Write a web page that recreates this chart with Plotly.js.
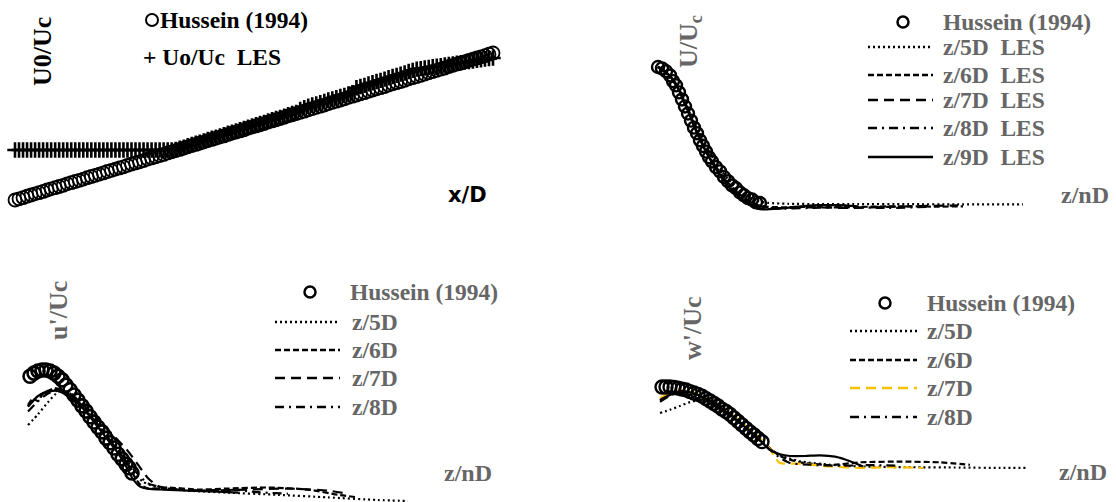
<!DOCTYPE html>
<html><head><meta charset="utf-8">
<script src="https://cdn.plot.ly/plotly-3.0.1.min.js"></script>
<style>html,body{margin:0;padding:0;background:#fff}#chart{width:1116px;height:502px}</style>
</head><body><div id="chart"></div>
<script>
// ---------- Panel 1 : U0/Uc vs x/D (uniform x/D stations, start 0, step 0.25) ----------
const p1Start = 0, p1Step = 0.25;
const p1Hussein = [1.00,1.04,1.08,1.13,1.17,1.21,1.25,1.29,1.34,1.38,
1.42,1.46,1.50,1.55,1.59,1.63,1.67,1.71,1.76,1.80,
1.84,1.88,1.92,1.97,2.01,2.05,2.09,2.13,2.18,2.22,
2.26,2.30,2.34,2.39,2.43,2.47,2.51,2.55,2.60,2.64,
2.68,2.72,2.76,2.81,2.85,2.89,2.93,2.97,3.02,3.06,
3.10,3.14,3.18,3.23,3.27,3.31,3.35,3.39,3.44,3.48,
3.52,3.56,3.60,3.65,3.69,3.73,3.77,3.81,3.86,3.90,
3.94,3.98,4.02,4.07,4.11,4.15,4.19,4.23,4.28,4.32,
4.36,4.40,4.44,4.49,4.53,4.57,4.61,4.65,4.70,4.74,
4.78,4.82,4.86,4.91,4.95,4.99,5.03,5.07,5.12,5.16,
5.20,5.24,5.28,5.33,5.37,5.41,5.45,5.49,5.54,5.58,
5.62,5.66,5.70,5.75,5.79,5.83,5.87,5.91,5.96,6.00];
const p1LES = [2.70,2.70,2.70,2.70,2.70,2.70,2.70,2.70,2.70,2.70,
2.70,2.70,2.70,2.70,2.70,2.70,2.70,2.70,2.70,2.70,
2.70,2.70,2.70,2.70,2.70,2.70,2.70,2.70,2.70,2.70,
2.70,2.70,2.70,2.70,2.70,2.70,2.70,2.70,2.70,2.70,
2.72,2.76,2.80,2.85,2.89,2.93,2.97,3.01,3.06,3.10,
3.14,3.18,3.22,3.27,3.31,3.35,3.39,3.43,3.48,3.52,
3.56,3.60,3.64,3.69,3.73,3.77,3.81,3.85,3.90,3.94,
3.98,4.08,4.14,4.19,4.23,4.27,4.31,4.35,4.40,4.44,
4.48,4.52,4.56,4.61,4.65,4.82,4.86,4.90,4.95,4.99,
5.03,5.07,5.11,5.16,5.20,5.24,5.28,5.32,5.37,5.41,
5.45,5.47,5.49,5.51,5.53,5.55,5.57,5.59,5.61,5.63,
5.65,5.67,5.69,5.71,5.73,5.75,5.77,5.79,5.81,5.83];

// ---------- Panel 2 : U/Uc vs z/nD ----------
const p2HusZ = [0,0.04,0.08,0.12,0.15,0.18,0.21,0.24,0.27,0.30,0.33,0.36,0.39,0.42,0.45,0.48,0.51,0.54,0.58,0.62,0.66,0.70,0.74,0.78,0.82,0.86,0.90,0.94,0.98,1.02];
const p2HusU = [1.00,0.99,0.97,0.94,0.90,0.87,0.82,0.77,0.72,0.67,0.62,0.57,0.53,0.48,0.44,0.40,0.36,0.33,0.29,0.26,0.22,0.19,0.16,0.14,0.11,0.09,0.07,0.06,0.04,0.035];
const p2Z5 = [0,0.05,0.1,0.15,0.2,0.25,0.3,0.35,0.4,0.45,0.5,0.55,0.6,0.65,0.7,0.75,0.8,0.85,0.9,0.95,1.0,1.1,1.3,1.6,2.0,2.5,3.0,3.65];
const p2U5 = [1.0,0.975,0.94,0.89,0.83,0.765,0.695,0.62,0.55,0.48,0.415,0.355,0.3,0.25,0.205,0.17,0.14,0.11,0.085,0.065,0.05,0.036,0.03,0.028,0.027,0.027,0.026,0.026];
const p2Z6 = [0,0.1,0.2,0.3,0.4,0.5,0.6,0.7,0.8,0.9,1.0,1.1,1.3,1.6,2.0,2.4,2.8,3.05];
const p2U6 = [1.0,0.95,0.85,0.69,0.52,0.38,0.27,0.18,0.11,0.05,0.02,0.008,0.005,0.01,0.008,0.012,0.01,0.012];
const p2Z7 = [0,0.1,0.2,0.3,0.4,0.5,0.6,0.7,0.8,0.9,1.0,1.2,1.5,1.9,2.3,2.7,3.0];
const p2U7 = [1.0,0.955,0.86,0.7,0.53,0.385,0.27,0.175,0.1,0.045,0.015,0.0,0.005,0.0,0.008,0.015,0.018];
const p2Z8 = [0,0.1,0.2,0.3,0.4,0.5,0.6,0.7,0.8,0.9,1.0,1.2,1.5,1.9,2.3,2.7];
const p2U8 = [1.0,0.95,0.85,0.69,0.52,0.375,0.26,0.165,0.095,0.04,0.01,-0.005,0.0,0.005,0.0,0.008];
const p2Z9 = [0,0.1,0.2,0.3,0.4,0.5,0.6,0.7,0.8,0.9,0.98,1.05,1.2,1.4,1.6,1.8,2.0];
const p2U9 = [1.0,0.95,0.85,0.685,0.515,0.37,0.255,0.16,0.085,0.03,0.0,-0.01,-0.005,0.01,0.02,0.02,0.012];

// ---------- Panel 3 : u'/Uc vs z/nD ----------
const p3HusZ = [0.02,0.06,0.10,0.14,0.18,0.22,0.26,0.30,0.34,0.38,0.42,0.46,0.50,0.54,0.58,0.62,0.66,0.70,0.74,0.78,0.82,0.86,0.90,0.94,0.98,1.01,1.04];
const p3HusU = [0.238,0.244,0.248,0.250,0.250,0.248,0.244,0.238,0.231,0.221,0.212,0.202,0.192,0.181,0.171,0.160,0.150,0.140,0.131,0.119,0.110,0.100,0.088,0.079,0.069,0.062,0.052];
const p3Z5 = [0,0.1,0.2,0.3,0.38,0.46,0.55,0.65,0.75,0.85,0.95,1.05,1.15,1.3,1.6,2.0,2.5,3.0,3.5,3.8];
const p3U5 = [0.144,0.165,0.188,0.208,0.212,0.2,0.18,0.155,0.13,0.105,0.08,0.055,0.035,0.024,0.018,0.014,0.01,0.005,0.0,-0.002];
const p3Z6 = [0,0.05,0.1,0.15,0.2,0.27,0.33,0.4,0.5,0.6,0.7,0.8,0.9,0.98,1.05,1.12,1.2,1.4,1.7,2.0,2.4,2.8,3.1,3.3];
const p3U6 = [0.183,0.195,0.19,0.205,0.21,0.215,0.212,0.205,0.19,0.168,0.145,0.12,0.095,0.075,0.05,0.03,0.022,0.024,0.02,0.022,0.024,0.02,0.01,0.005];
const p3Z7 = [0,0.1,0.2,0.3,0.4,0.5,0.6,0.7,0.8,0.9,1.0,1.1,1.2,1.3,1.5,1.8,2.2,2.6,3.0,3.2];
const p3U7 = [0.18,0.2,0.21,0.212,0.207,0.192,0.175,0.155,0.135,0.115,0.094,0.068,0.042,0.027,0.02,0.018,0.02,0.022,0.018,0.012];
const p3Z8 = [0,0.1,0.2,0.3,0.4,0.5,0.6,0.7,0.8,0.9,1.0,1.1,1.2,1.4,1.7,2.0,2.3,2.6];
const p3U8 = [0.17,0.19,0.205,0.21,0.203,0.188,0.168,0.145,0.12,0.095,0.072,0.05,0.032,0.022,0.018,0.02,0.015,0.012];
const p3Z9 = [0,0.1,0.2,0.3,0.4,0.5,0.6,0.7,0.8,0.9,0.98,1.05,1.12,1.2,1.35,1.6,1.9,2.1];
const p3U9 = [0.18,0.2,0.208,0.21,0.2,0.185,0.165,0.14,0.115,0.09,0.065,0.04,0.026,0.022,0.02,0.018,0.016,0.014];

// ---------- Panel 4 : w'/Uc vs z/nD ----------
const p4HusZ = [0.02,0.06,0.10,0.14,0.18,0.22,0.26,0.30,0.34,0.38,0.42,0.46,0.50,0.54,0.58,0.62,0.66,0.70,0.74,0.78,0.82,0.86,0.90,0.94,0.98,1.02];
const p4HusW = [0.237,0.237,0.237,0.236,0.234,0.231,0.229,0.224,0.220,0.216,0.211,0.204,0.197,0.190,0.183,0.174,0.167,0.159,0.149,0.139,0.129,0.119,0.109,0.100,0.090,0.081];
const p4Z5 = [0,0.1,0.2,0.3,0.4,0.5,0.6,0.7,0.8,0.9,1.0,1.1,1.2,1.4,1.7,2.0,2.5,3.0,3.4,3.67];
const p4W5 = [0.163,0.172,0.183,0.194,0.2,0.192,0.175,0.155,0.132,0.108,0.083,0.06,0.042,0.025,0.015,0.01,0.008,0.007,0.006,0.006];
const p4Z6 = [0,0.1,0.2,0.3,0.4,0.5,0.6,0.7,0.8,0.9,1.0,1.1,1.2,1.4,1.7,2.0,2.4,2.8,3.1];
const p4W6 = [0.2,0.215,0.225,0.222,0.213,0.198,0.18,0.16,0.137,0.113,0.088,0.062,0.04,0.022,0.014,0.022,0.024,0.022,0.015];
const p4Z7 = [0,0.1,0.2,0.3,0.4,0.5,0.6,0.7,0.8,0.9,1.0,1.1,1.15,1.2,1.4,1.7,2.0,2.3,2.63];
const p4W7 = [0.205,0.22,0.228,0.225,0.215,0.2,0.183,0.163,0.14,0.116,0.09,0.06,0.035,0.02,0.018,0.01,0.006,0.008,0.006];
const p4Z8 = [0,0.1,0.2,0.3,0.4,0.5,0.6,0.7,0.8,0.9,1.0,1.1,1.2,1.3,1.5,1.8,2.1,2.4];
const p4W8 = [0.195,0.212,0.222,0.22,0.21,0.195,0.177,0.157,0.134,0.11,0.085,0.058,0.035,0.02,0.015,0.012,0.014,0.012];
const p4Z9 = [0,0.1,0.2,0.3,0.4,0.5,0.6,0.7,0.8,0.9,1.0,1.05,1.1,1.2,1.3,1.45,1.6,1.75,1.9,2.03];
const p4W9 = [0.2,0.215,0.225,0.222,0.212,0.197,0.178,0.158,0.135,0.11,0.085,0.07,0.057,0.045,0.04,0.04,0.042,0.038,0.025,0.01];

// ---------- styling / layout helpers ----------
const W = 1116, H = 502;
const GRAY = '#666666', YEL = '#FFC000';
const DOT = '2px,3px', SHORT = '6px,3px', LONG = '10px,6px', DD = '9px,5px,2px,5px';
const SERIF = 'Liberation Serif, Times New Roman, serif';
const LEG = 23.5;

function rng(pA, vA, pB, vB, total) {
  const s = (vB - vA) / (pB - pA);
  return [vA + (0 - pA) * s, vA + (total - pA) * s];
}
function xr(pA, vA, pB, vB) { return rng(pA, vA, pB, vB, W); }
function yr(pA, vA, pB, vB) { const r = rng(pA, vA, pB, vB, H); return [r[1], r[0]]; }
const fx = x => x / W, fy = y => 1 - y / H;

const traces = [];
function line(x, y, ax, dash, color, width) {
  traces.push({type:'scatter', mode:'lines', x:x, y:y, xaxis:'x'+ax, yaxis:'y'+ax,
    line:{color:color||'#000', width:width||2.2, dash:dash, shape:'spline', smoothing:0.6},
    hoverinfo:'skip'});
}
function circles(x, y, ax, size, lw) {
  traces.push({type:'scatter', mode:'markers', x:x, y:y, xaxis:'x'+ax, yaxis:'y'+ax,
    marker:{symbol:'circle-open', size:size, color:'#000', line:{width:lw}}, hoverinfo:'skip'});
}

// Panel 1
traces.push({type:'scatter', mode:'markers', x0:p1Start, dx:p1Step, y:p1Hussein, xaxis:'x', yaxis:'y',
  marker:{symbol:'circle-open', size:13, color:'#000', line:{width:1.8}}, hoverinfo:'skip'});
traces.push({type:'scatter', mode:'markers', x0:p1Start, dx:p1Step, y:p1LES, xaxis:'x', yaxis:'y',
  marker:{symbol:'cross-thin-open', size:11, color:'#000', line:{width:2.6}}, hoverinfo:'skip'});

// Panel 2
line(p2Z5, p2U5, 2, DOT); line(p2Z6, p2U6, 2, SHORT); line(p2Z7, p2U7, 2, LONG);
line(p2Z8, p2U8, 2, DD); line(p2Z9, p2U9, 2, 'solid');
circles(p2HusZ, p2HusU, 2, 12, 2.4);

// Panel 3
line(p3Z5, p3U5, 3, DOT); line(p3Z6, p3U6, 3, SHORT); line(p3Z7, p3U7, 3, LONG);
line(p3Z8, p3U8, 3, DD); line(p3Z9, p3U9, 3, 'solid');
circles(p3HusZ, p3HusU, 3, 13, 2.6);

// Panel 4
line(p4Z5, p4W5, 4, DOT); line(p4Z6, p4W6, 4, SHORT); line(p4Z7, p4W7, 4, LONG, YEL);
line(p4Z8, p4W8, 4, DD); line(p4Z9, p4W9, 4, 'solid');
circles(p4HusZ, p4HusW, 4, 13, 2.4);

function ax(range, anchor) {
  return {domain:[0,1], range:range, visible:false, fixedrange:true, anchor:anchor, showgrid:false, zeroline:false};
}
const layout = {
  width: W, height: H, margin:{l:0,r:0,t:0,b:0},
  paper_bgcolor:'#fff', plot_bgcolor:'rgba(0,0,0,0)', showlegend:false,
  xaxis: ax(xr(15,0,493,29.75),'y'),  yaxis: ax(yr(200,1,53,6),'x'),
  xaxis2: ax(xr(658,0,758,1),'y2'),   yaxis2: ax(yr(208,0,67,1),'x2'),
  xaxis3: ax(xr(28,0,128,1),'y3'),    yaxis3: ax(yr(500,0,370,0.25),'x3'),
  xaxis4: ax(xr(660,0,760,1),'y4'),   yaxis4: ax(yr(470,0,365,0.3),'x4'),
  annotations: [], shapes: []
};

function txt(t, x, y, o) {
  o = o || {};
  layout.annotations.push({text:t, xref:'paper', yref:'paper', x:fx(x), y:fy(y),
    xanchor:o.xa||'left', yanchor:'middle', textangle:o.rot||0, showarrow:false,
    font:{family:o.fam||SERIF, size:o.s||LEG, color:o.c||GRAY}});
}
function lsamp(x0, x1, y, dash, color) {
  layout.shapes.push({type:'line', xref:'paper', yref:'paper', x0:fx(x0), x1:fx(x1), y0:fy(y), y1:fy(y),
    line:{color:color||'#000', width:2.5, dash:dash}});
}
function csamp(x, y, r, w) {
  layout.shapes.push({type:'circle', xref:'paper', yref:'paper', xsizemode:'pixel', ysizemode:'pixel',
    xanchor:fx(x), yanchor:fy(y), x0:-r, x1:r, y0:-r, y1:r, line:{color:'#000', width:w}});
}
const NB = '\u00a0';

// Panel 1 texts
txt('<b>U0/Uc</b>', 42, 52, {rot:-90, xa:'center', c:'#000', s:26});
txt('<b>x/D</b>', 467, 195, {xa:'center', c:'#000', s:21, fam:'DejaVu Sans, sans-serif'});
csamp(152, 20, 6, 2);
txt('<b>Hussein (1994)</b>', 158, 20, {c:'#000'});
txt('<b>+ Uo/Uc' + NB + NB + 'LES</b>', 141, 57, {c:'#000'});

// Panel 2 texts
txt('<b>U/U<sub>c</sub></b>', 690, 42, {rot:-90, xa:'center', s:26});
txt('<b>z/nD</b>', 1085, 195, {xa:'center', s:24});
csamp(903, 22, 5.5, 2.5);
txt('<b>Hussein (1994)</b>', 941, 22);
const p2Leg = [['z/5D', DOT, 47], ['z/6D', SHORT, 75], ['z/7D', LONG, 100], ['z/8D', DD, 128], ['z/9D', 'solid', 157]];
p2Leg.forEach(e => { lsamp(868, 933, e[2], e[1]); txt('<b>' + e[0] + NB + NB + 'LES</b>', 941, e[2]); });

// Panel 3 texts
txt("<b>u'/Uc</b>", 58, 311, {rot:-90, xa:'center', s:26});
txt('<b>z/nD</b>', 468, 473, {xa:'center', s:24});
csamp(310, 292, 5.5, 2.5);
txt('<b>Hussein (1994)</b>', 348, 292);
const p3Leg = [['z/5D', DOT, 322, '#000'], ['z/6D', SHORT, 350, '#000'], ['z/7D', LONG, 378, '#000'], ['z/8D', DD, 407, '#000']];
p3Leg.forEach(e => { lsamp(275, 340, e[2], e[1], e[3]); txt('<b>' + e[0] + '</b>', 350, e[2]); });

// Panel 4 texts
txt("<b>w'/Uc</b>", 692, 328, {rot:-90, xa:'center', s:26});
txt('<b>z/nD</b>', 1083, 472, {xa:'center', s:24});
csamp(885, 303, 5.5, 2.5);
txt('<b>Hussein (1994)</b>', 925, 303);
const p4Leg = [['z/5D', DOT, 331, '#000'], ['z/6D', SHORT, 360, '#000'], ['z/7D', LONG, 388, YEL], ['z/8D', DD, 417, '#000']];
p4Leg.forEach(e => { lsamp(850, 917, e[2], e[1], e[3]); txt('<b>' + e[0] + '</b>', 925, e[2]); });

Plotly.newPlot('chart', traces, layout, {staticPlot:true, displayModeBar:false});
</script></body></html>
